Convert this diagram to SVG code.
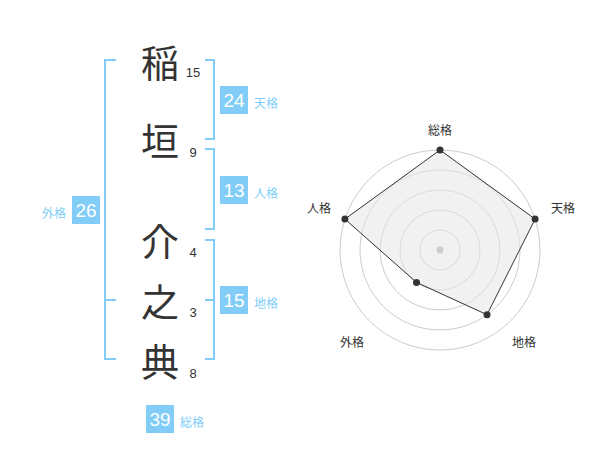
<svg xmlns="http://www.w3.org/2000/svg" width="600" height="470" viewBox="0 0 600 470">
<style>
.ch{font-family:"Noto Sans CJK JP","Noto Sans CJK SC",sans-serif;font-size:38px;fill:#333;text-anchor:middle}
.num{font-family:"Liberation Sans",Arial,sans-serif;font-size:13px;fill:#333;text-anchor:middle}
.br{fill:none;stroke:#82cdf8;stroke-width:2}
.box{fill:#82cdf8}
.bt{font-family:"Liberation Sans",Arial,sans-serif;font-size:19px;fill:#fff;text-anchor:middle}
.lb{font-family:"Noto Sans CJK JP","Noto Sans CJK SC",sans-serif;font-size:12px;fill:#82cdf8}
.rl{font-family:"Noto Sans CJK JP","Noto Sans CJK SC",sans-serif;font-size:12px;fill:#333;text-anchor:middle}
.ring{fill:none;stroke:#cccccc;stroke-width:1}
.pt{fill:#333}
</style>
<rect width="600" height="470" fill="#fff"/>
<g id="connectors">
<path class="br" d="M116,60 H105 V359 H116 M105,300 H116"/>
<path class="br" d="M205,60 H214 V139 H205"/>
<path class="br" d="M205,149 H214 V229 H205"/>
<path class="br" d="M205,240 H214 V359 H205 M205,300 H214"/>
</g>
<g id="char1"><text class="ch" x="160" y="77">稲</text><text class="num" x="193" y="77">15</text></g>
<g id="char2"><text class="ch" x="160" y="155">垣</text><text class="num" x="193" y="157">9</text></g>
<g id="char3"><text class="ch" x="160" y="256">介</text><text class="num" x="193" y="257">4</text></g>
<g id="char4"><text class="ch" x="160" y="316">之</text><text class="num" x="193" y="317">3</text></g>
<g id="char5"><text class="ch" x="160" y="376">典</text><text class="num" x="193" y="378">8</text></g>
<g id="tenkaku"><rect class="box" x="220" y="86" width="28" height="28"/><text class="bt" x="234" y="107">24</text><text class="lb" x="254" y="108">天格</text></g>
<g id="jinkaku"><rect class="box" x="220" y="176" width="28" height="28"/><text class="bt" x="234" y="197">13</text><text class="lb" x="254" y="198">人格</text></g>
<g id="chikaku"><rect class="box" x="220" y="286" width="28" height="28"/><text class="bt" x="234" y="307">15</text><text class="lb" x="254" y="308">地格</text></g>
<g id="gaikaku"><rect class="box" x="72" y="196" width="28" height="28"/><text class="bt" x="86" y="217">26</text><text class="lb" x="66" y="218" text-anchor="end">外格</text></g>
<g id="soukaku"><rect class="box" x="146" y="405" width="28" height="28"/><text class="bt" x="160" y="426">39</text><text class="lb" x="180" y="427">総格</text></g>
<g id="radar">
<circle class="ring" cx="440" cy="250" r="20"/>
<circle class="ring" cx="440" cy="250" r="40"/>
<circle class="ring" cx="440" cy="250" r="60"/>
<circle class="ring" cx="440" cy="250" r="80"/>
<circle class="ring" cx="440" cy="250" r="100"/>
<polygon points="440,150 535.1,219.1 487,314.7 416.5,282.4 344.9,219.1" fill="#e6e6e6" fill-opacity="0.55" stroke="#333" stroke-width="1"/>
<circle cx="440" cy="250" r="3.5" fill="#cccccc"/>
<circle class="pt" cx="440" cy="150" r="3.5"/>
<circle class="pt" cx="535.1" cy="219.1" r="3.5"/>
<circle class="pt" cx="487" cy="314.7" r="3.5"/>
<circle class="pt" cx="416.5" cy="282.4" r="3.5"/>
<circle class="pt" cx="344.9" cy="219.1" r="3.5"/>
<text class="rl" x="440" y="135">総格</text>
<text class="rl" x="563" y="213">天格</text>
<text class="rl" x="319" y="213">人格</text>
<text class="rl" x="352" y="347">外格</text>
<text class="rl" x="524" y="347">地格</text>
</g>
</svg>
